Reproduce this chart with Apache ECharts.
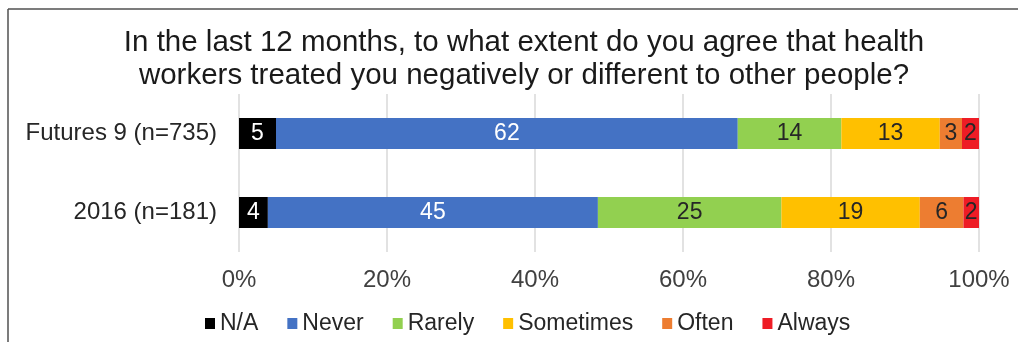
<!DOCTYPE html>
<html>
<head>
<meta charset="utf-8">
<script src="https://cdn.jsdelivr.net/npm/echarts@6/dist/echarts.min.js"></script>
<style>html,body{margin:0;padding:0;background:#fff}#c{width:1018px;height:342px}</style>
</head>
<body>
<div id="c"></div>
<script>
const categories = ['Futures 9 (n=735)', '2016 (n=181)'];
const seriesNames = ['N/A', 'Never', 'Rarely', 'Sometimes', 'Often', 'Always'];
const naVals = [5.0, 3.9];
const neverVals = [62.4, 44.6];
const rarelyVals = [14.0, 24.8];
const sometimesVals = [13.3, 18.7];
const oftenVals = [3.0, 5.9];
const alwaysVals = [2.3, 2.1];
const xTicks = [0, 20, 40, 60, 80, 100];

const colors = ['#000000', '#4472c4', '#92d050', '#ffc000', '#ed7d31', '#ee1c25'];
const labelColors = ['#ffffff', '#ffffff', '#262626', '#262626', '#262626', '#262626'];
const allVals = [naVals, neverVals, rarelyVals, sometimesVals, oftenVals, alwaysVals];
const FONT = 'Liberation Sans';

const chart = echarts.init(document.getElementById('c'));
chart.setOption({
  animation: false,
  textStyle: { fontFamily: FONT },
  title: {
    text: 'In the last 12 months, to what extent do you agree that health\nworkers treated you negatively or different to other people?',
    left: 519, top: 21, textAlign: 'center',
    textStyle: { fontFamily: FONT, fontSize: 29.5, fontWeight: 'normal', color: '#1a1a1a', lineHeight: 33 }
  },
  legend: {
    bottom: 2, left: 200,
    itemWidth: 10, itemHeight: 11, itemGap: 29,
    icon: 'rect',
    textStyle: { fontFamily: FONT, fontSize: 23, color: '#262626' },
    data: seriesNames
  },
  grid: { left: 239, right: 39, top: 94, height: 158, containLabel: false },
  xAxis: {
    type: 'value', min: xTicks[0], max: xTicks[xTicks.length - 1], interval: 20,
    axisLine: { show: false }, axisTick: { show: false },
    splitLine: { lineStyle: { color: '#d9d9d9', width: 1.5 } },
    axisLabel: { formatter: '{value}%', fontSize: 24, color: '#404040', margin: 16, fontFamily: FONT }
  },
  yAxis: {
    type: 'category', data: categories, inverse: true,
    axisLine: { show: false }, axisTick: { show: false },
    axisLabel: { fontSize: 24, color: '#262626', margin: 22, fontFamily: FONT }
  },
  graphic: [
    { type: 'line', shape: { x1: 8, y1: 9, x2: 1018, y2: 9 }, style: { stroke: '#505050', lineWidth: 1.5 } },
    { type: 'line', shape: { x1: 8, y1: 9, x2: 8, y2: 342 }, style: { stroke: '#505050', lineWidth: 1.5 } }
  ],
  series: seriesNames.map((name, i) => ({
    name, type: 'bar', stack: 'total', barWidth: 31,
    itemStyle: { color: colors[i] },
    label: {
      show: true, position: 'inside', fontSize: 23, color: labelColors[i], fontFamily: FONT,
      formatter: p => String(Math.round(p.value))
    },
    data: allVals[i]
  }))
});
</script>
</body>
</html>
